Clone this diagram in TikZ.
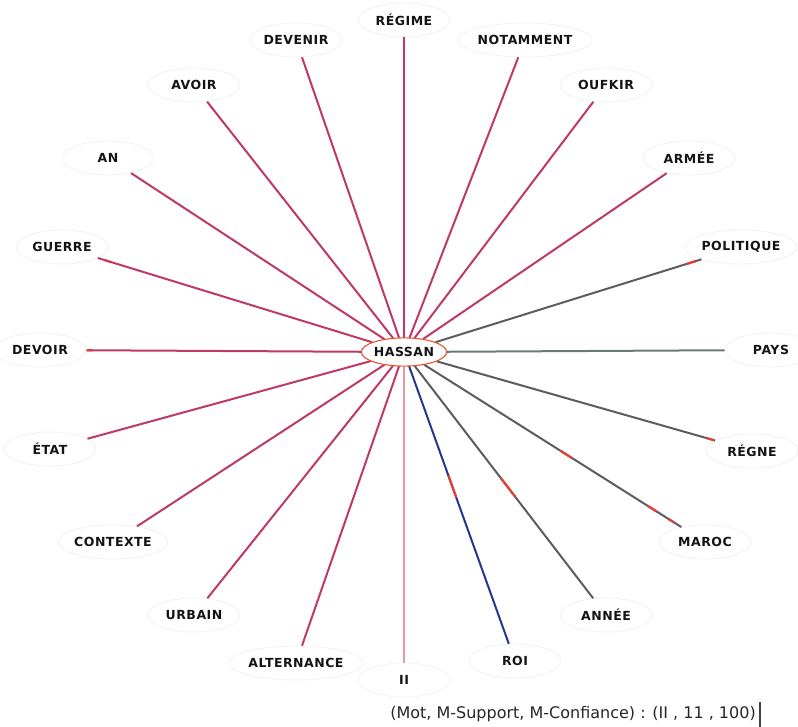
\documentclass[tikz,border=0pt]{standalone}
\usepackage{fontspec}
\setmainfont{DejaVu Sans}
\newfontfamily\lblfont[LetterSpace=4.0]{DejaVu Sans}
\usetikzlibrary{shapes.geometric,calc}

\definecolor{pinkline}{RGB}{190,56,104}
\definecolor{grayline}{RGB}{92,92,98}
\definecolor{paysline}{RGB}{104,124,114}
\definecolor{blueline}{RGB}{38,54,140}
\definecolor{iiline}{RGB}{232,152,166}
\definecolor{redmark}{RGB}{232,62,50}
\definecolor{halo}{RGB}{242,242,242}

\tikzset{
  word/.style={ellipse, draw=halo, line width=0.8pt, fill=white,
    minimum width=92pt, minimum height=34pt, inner sep=0pt,
    font=\lblfont\bfseries\fontsize{12.5}{14}\selectfont, text=black!92},
  hub/.style={ellipse, draw=redmark!80!orange, line width=0.9pt, fill=white,
    minimum width=74pt, minimum height=28pt, inner sep=0pt,
    font=\lblfont\bfseries\fontsize{12.5}{14}\selectfont, text=black!92},
  pinklink/.style={draw=pinkline, line width=2pt},
  graylink/.style={draw=grayline, line width=2pt},
  payslink/.style={draw=paysline, line width=2pt},
  bluelink/.style={draw=blueline, line width=2pt},
  iilink/.style={draw=iiline, line width=1.4pt},
  redbit/.style={draw=redmark, line width=2.2pt},
  caption/.style={font=\fontsize{16}{19}\selectfont, text=black!85, inner sep=2pt},
}

\begin{document}
\begin{tikzpicture}[x=1pt,y=-1pt]
  \useasboundingbox (0,0) rectangle (798,727);

  % centre word
  \node[hub] (hassan) at (404,352) {HASSAN};

  % surrounding words
  \node[word] (regime)     at (404,20)  {RÉGIME};
  \node[word] (devenir)    at (296,40)  {DEVENIR};
  \node[word] (notamment)  at (525,40)  {NOTAMMENT};
  \node[word] (avoir)      at (194,85)  {AVOIR};
  \node[word] (oufkir)     at (606,85)  {OUFKIR};
  \node[word] (an)         at (108,158) {AN};
  \node[word] (armee)      at (689,158) {ARMÉE};
  \node[word] (guerre)     at (62,247)  {GUERRE};
  \node[word] (politique)  at (741,247) {POLITIQUE};
  \node[word] (devoir)     at (40,350)  {DEVOIR};
  \node[word] (pays)       at (771,350) {PAYS};
  \node[word] (etat)       at (50,449)  {ÉTAT};
  \node[word] (regne)      at (752,451) {RÉGNE};
  \node[word] (contexte)   at (113,542) {CONTEXTE};
  \node[word] (maroc)      at (705,542) {MAROC};
  \node[word] (urbain)     at (194,615) {URBAIN};
  \node[word] (annee)      at (606,615) {ANNÉE};
  \node[word] (alternance) at (296,663) {ALTERNANCE};
  \node[word] (ii)         at (404,680) {II};
  \node[word] (roi)        at (515,661) {ROI};

  % links
  \foreach \w in {regime,devenir,notamment,avoir,oufkir,an,armee,guerre,
                  devoir,etat,contexte,urbain,alternance}
    \draw[pinklink] (hassan) -- (\w);
  \foreach \w in {politique,regne,maroc,annee}
    \draw[graylink] (hassan) -- (\w);
  \draw[payslink] (hassan) -- (pays);
  \draw[bluelink] (hassan) -- (roi);
  \draw[iilink] (hassan) -- (ii);

  % red flecks along some links
  \draw[redbit] ($(hassan)!0.40!(roi)$) -- ($(hassan)!0.47!(roi)$);
  \draw[redbit] ($(hassan)!0.48!(annee)$) -- ($(hassan)!0.55!(annee)$);
  \draw[redbit] ($(hassan)!0.52!(maroc)$) -- ($(hassan)!0.56!(maroc)$);
  \draw[redbit] ($(hassan)!0.81!(maroc)$) -- ($(hassan)!0.84!(maroc)$);
  \draw[redbit] ($(hassan)!0.88!(maroc)$) -- ($(hassan)!0.895!(maroc)$);
  \draw[redbit] ($(hassan)!0.87!(regne)$) -- ($(hassan)!0.89!(regne)$);
  \draw[redbit] ($(hassan)!0.84!(politique)$) -- ($(hassan)!0.865!(politique)$);
  \draw[redbit, draw=redmark!60!pinkline] ($(hassan)!0.855!(devoir)$) -- ($(hassan)!0.87!(devoir)$);
  \draw[redbit, draw=redmark!60!pinkline] ($(hassan)!0.86!(guerre)$) -- ($(hassan)!0.875!(guerre)$);

  % redraw the centre word on top of link ends
  \node[hub] at (hassan) {HASSAN};

  % status line
  \node[caption, anchor=base] (status) at (573,718)
    {(Mot, M-Support, M-Confiance) : (II , 11 , 100)};
  \draw[black!75, line width=1.6pt] ($(status.north east)+(2,-2)$) -- ($(status.south east)+(2,3)$);
\end{tikzpicture}
\end{document}
